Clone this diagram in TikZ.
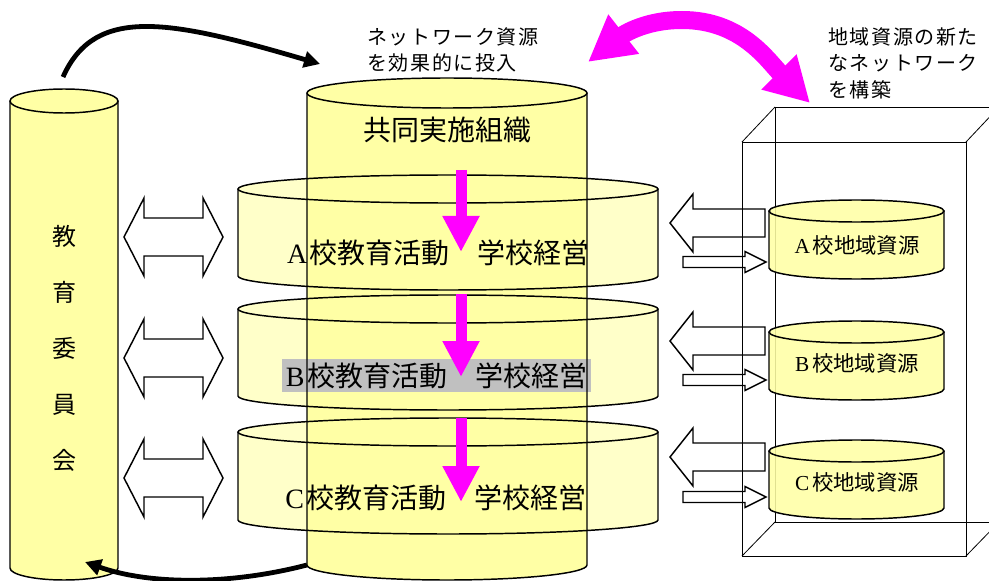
\documentclass[tikz,border=0pt]{standalone}
\usepackage{fontspec}
\setmainfont{Noto Sans CJK JP}
\newfontfamily\lat{Liberation Serif}
\newfontfamily\jpls[LetterSpace=8]{Noto Sans CJK JP}
\usetikzlibrary{arrows.meta}
\definecolor{cylY}{RGB}{255,255,165}
\definecolor{diskY}{RGB}{255,255,165}
\definecolor{grayhl}{RGB}{192,192,192}
\definecolor{pinkM}{RGB}{255,0,255}

% fill of a cylinder: style, cx, ytop, ybot, rx, ry (pixel units, y downward)
\newcommand\cylFill[6]{%
  \fill[#1] ({#2-#5},{-#3}) -- ({#2-#5},{-#4})
    arc[start angle=180,end angle=360,x radius=#5,y radius=#6]
    -- ({#2+#5},{-#3})
    arc[start angle=0,end angle=180,x radius=#5,y radius=#6] -- cycle;}
% outline of a cylinder: cx, ytop, ybot, rx, ry
\newcommand\cylLine[5]{%
  \draw[cylline] (#1,{-#2}) ellipse[x radius=#4,y radius=#5];
  \draw[cylline] ({#1-#4},{-#2}) -- ({#1-#4},{-#3})
    arc[start angle=180,end angle=360,x radius=#4,y radius=#5] -- ({#1+#4},{-#2});}
% white double block arrow centred at y
\newcommand\dblArrow[1]{%
  \draw[blockarrow] (124,{-#1}) -- (144,{-#1+39}) -- (144,{-#1+19}) -- (203,{-#1+19})
    -- (203,{-#1+39}) -- (223,{-#1}) -- (203,{-#1-39}) -- (203,{-#1-19})
    -- (144,{-#1-19}) -- (144,{-#1-39}) -- cycle;}
\newcommand\bigLeftArrow[1]{%
  \draw[blockarrow] (670,{-#1}) -- (693,{-#1+29}) -- (693,{-#1+14}) -- (765,{-#1+14})
    -- (765,{-#1-14}) -- (693,{-#1-14}) -- (693,{-#1-29}) -- cycle;}
\newcommand\smallRightArrow[1]{%
  \draw[blockarrow] (683,{-#1+5.5}) -- (745,{-#1+5.5}) -- (745,{-#1+10.5}) -- (766,{-#1})
    -- (745,{-#1-10.5}) -- (745,{-#1-5.5}) -- (683,{-#1-5.5}) -- cycle;}

\begin{document}
\begin{tikzpicture}[x=0.75pt,y=0.75pt,
  cylline/.style={line width=1.1pt,black},
  blockarrow/.style={line width=1.1pt,draw=black,fill=white,line join=miter},
  boxline/.style={line width=0.6pt,black},
  blkarrow/.style={line width=3.6pt,black,-{Triangle[length=12pt,width=12pt]}},
  pinkdown/.style={pinkM,line width=8.25pt,-{Triangle[length=27pt,width=26pt]}},
  pinkcurve/.style={pinkM,line width=13.5pt,
     {Triangle[length=34pt,width=35pt]}-{Triangle[length=33pt,width=35pt]}},
  big/.style={font=\fontsize{21pt}{25pt}\selectfont,inner sep=0pt},
  small/.style={font=\fontsize{16pt}{19pt}\selectfont,inner sep=0pt},
  lbl/.style={font=\jpls\fontsize{15pt}{18pt}\selectfont,inner sep=0pt,anchor=west}]
\useasboundingbox (0,0) rectangle (989,-581);
\clip (0,0) rectangle (989,-581);

% ---- fills
\cylFill{fill=cylY}{64}{101}{568}{54}{12}
\cylFill{fill=cylY}{447}{93}{565}{140}{15}
\cylFill{fill=diskY,fill opacity=0.6}{448}{189}{276}{210}{14}
\cylFill{fill=diskY,fill opacity=0.6}{448}{309}{396}{210}{14}
\cylFill{fill=diskY,fill opacity=0.6}{448}{432}{520}{210}{14}

% ---- texts inside
\node[big] (org) at (447,-130) {共同実施組織};
\node[big] (actA) at (438.5,-253) {{\lat A}\hspace{2pt}校教育活動　学校経営};
\node[big,fill=grayhl,minimum width=231.75pt,minimum height=24.75pt] (actB) at (436.5,-375.5) {{\lat B}\hspace{2pt}校教育活動　学校経営};
\node[big] (actC) at (436,-498) {{\lat C}\hspace{2pt}校教育活動　学校経営};
\node[font=\fontsize{18pt}{42pt}\selectfont,align=center,inner sep=0pt] (boe) at (64,-348) {教\\育\\委\\員\\会};

% ---- outlines
\cylLine{64}{101}{568}{54}{12}
\cylLine{448}{189}{276}{210}{14}
\cylLine{448}{309}{396}{210}{14}
\cylLine{448}{432}{520}{210}{14}
\cylLine{447}{93}{565}{140}{15}

% ---- magenta down arrows
\coordinate (dA1) at (461,-170); \coordinate (dA2) at (461,-252);
\coordinate (dB1) at (461,-294); \coordinate (dB2) at (461,-377);
\coordinate (dC1) at (461,-418); \coordinate (dC2) at (461,-502);
\draw[pinkdown] (dA1) -- (dA2);
\draw[pinkdown] (dB1) -- (dB2);
\draw[pinkdown] (dC1) -- (dC2);

% ---- left double arrows
\dblArrow{237}
\dblArrow{358}
\dblArrow{478}

% ---- right arrows
\bigLeftArrow{223}
\bigLeftArrow{341}
\bigLeftArrow{457}
\smallRightArrow{262}
\smallRightArrow{380}
\smallRightArrow{497}

% ---- 3D box
\draw[boxline] (775,-107) rectangle (999,-522);
\draw[boxline] (742,-142) rectangle (966,-556);
\draw[boxline] (742,-142) -- (775,-107);
\draw[boxline] (966,-142) -- (999,-107);
\draw[boxline] (742,-556) -- (775,-522);
\draw[boxline] (966,-556) -- (999,-522);

% ---- small cylinders
\cylFill{fill=cylY,fill opacity=0.88}{856.5}{211}{268}{87.5}{11}
\cylFill{fill=cylY,fill opacity=0.88}{856.5}{332}{389}{87.5}{11}
\cylFill{fill=cylY,fill opacity=0.88}{856.5}{451}{508}{87.5}{11}
\cylLine{856.5}{211}{268}{87.5}{11}
\cylLine{856.5}{332}{389}{87.5}{11}
\cylLine{856.5}{451}{508}{87.5}{11}
\node[small] (resA) at (857,-245) {{\lat A}\hspace{2pt}校地域資源};
\node[small] (resB) at (857,-363) {{\lat B}\hspace{2pt}校地域資源};
\node[small] (resC) at (857,-482) {{\lat C}\hspace{2pt}校地域資源};

% ---- top labels
\node[lbl] (netL1) at (367,-37) {ネットワーク資源};
\node[lbl] (netL2) at (367,-63) {を効果的に投入};
\node[lbl] (locL1) at (828,-37) {地域資源の新た};
\node[lbl] (locL2) at (828,-63) {なネットワーク};
\node[lbl] (locL3) at (828,-90) {を構築};

% ---- black curved arrows
\coordinate (boeTop) at (63,-77);
\coordinate (orgTop) at (320,-64);
\coordinate (orgBot) at (307,-565);
\coordinate (boeBot) at (85,-562);
\draw[blkarrow] (boeTop) .. controls (95,-5) and (170,-20) .. (orgTop);
\draw[blkarrow] (orgBot) .. controls (230,-585) and (150,-585) .. (boeBot);

% ---- magenta curved double arrow
\coordinate (mgL) at (588,-62);
\coordinate (mgPeak) at (682,-20);
\coordinate (mgR) at (810,-103);
\draw[pinkcurve] (mgL) to[out=38,in=180] (mgPeak) to[out=0,in=135] (mgR);
\end{tikzpicture}
\end{document}
